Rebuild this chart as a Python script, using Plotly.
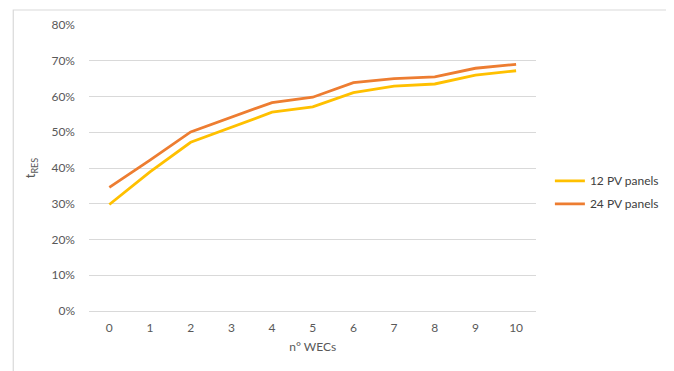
import plotly.graph_objects as go

wecs = [0, 1, 2, 3, 4, 5, 6, 7, 8, 9, 10]
pv12 = [0.298, 0.389, 0.472, 0.514, 0.556, 0.571, 0.611, 0.629, 0.635, 0.660, 0.672]
pv24 = [0.346, 0.422, 0.501, 0.542, 0.583, 0.598, 0.639, 0.650, 0.655, 0.679, 0.690]
series_names = ["12 PV panels", "24 PV panels"]
colors = ["#FFC000", "#ED7D31"]
y_ticks = [0, 0.1, 0.2, 0.3, 0.4, 0.5, 0.6, 0.7, 0.8]

fig = go.Figure()
for name, vals, col in zip(series_names, [pv12, pv24], colors):
    fig.add_trace(go.Scatter(x=wecs, y=vals, mode="lines", name=name, legendgroup=name,
                             line=dict(color=col, width=2.8)))

font = dict(family="Lato, Carlito, 'Liberation Sans', sans-serif", size=12, color="#595959")

PAPER_W = 575.0
PLOT_W = 449.0
PLOT_H = 286.0

fig.update_layout(
    width=666, height=363,
    margin=dict(l=81, r=10, t=17, b=60),
    paper_bgcolor="white", plot_bgcolor="white",
    font=font,
    showlegend=True,
    legend=dict(x=(543.5 - 81) / PAPER_W, y=0.415, xanchor="left", yanchor="middle",
                font=dict(size=12, color="#404040"), traceorder="grouped", tracegroupgap=4,
                bgcolor="rgba(0,0,0,0)"),
    xaxis=dict(domain=[0, PLOT_W / PAPER_W], range=[-0.5, 10.5], tickmode="array",
               tickvals=wecs, automargin=False,
               ticktext=[str(v) for v in wecs], showgrid=False, zeroline=False,
               showline=False, ticks="", ticklabelstandoff=8,
               title=dict(text="n° WECs", standoff=8, font=dict(size=12, color="#595959"))),
    yaxis=dict(range=[0, 0.8], tickmode="array", tickvals=y_ticks, automargin=False,
               tickformat=".0%", showgrid=True, gridcolor="#D9D9D9", gridwidth=1,
               zeroline=True, zerolinecolor="#D9D9D9", zerolinewidth=1,
               showline=False, ticks="", ticklabelstandoff=13,
               title=dict(text="t<sub>RES</sub>", standoff=12, font=dict(size=13, color="#595959"))),
    shapes=[dict(type="rect", xref="paper", yref="paper",
                 x0=-76 / PAPER_W, x1=581 / PAPER_W,
                 y0=-0.3, y1=1 + 15 / PLOT_H,
                 line=dict(color="#D9D9D9", width=1.2), fillcolor="rgba(0,0,0,0)",
                 layer="below")],
)

fig.write_html("out.html")
